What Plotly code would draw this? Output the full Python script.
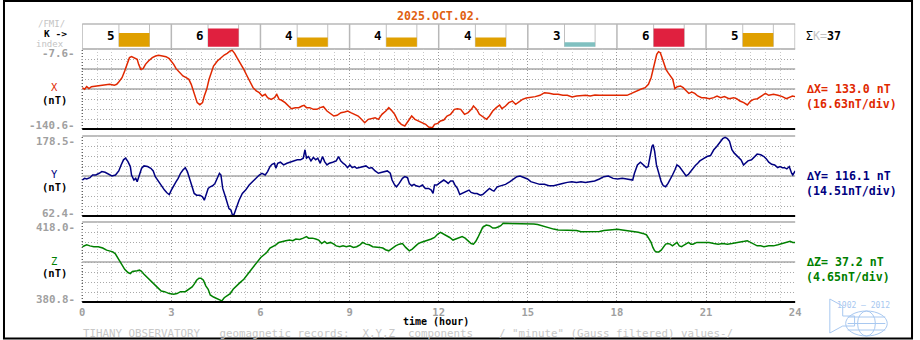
import plotly.graph_objects as go

# ---------------- data ----------------
TITLE = "2025.OCT.02."
K_INDEX = [5, 6, 4, 4, 4, 3, 6, 5]
HOUR_TICKS = [0, 3, 6, 9, 12, 15, 18, 21, 24]
HOUR_LABELS = ["0", "3", "6", "9", "12", "15", "18", "21", "24"]
X_RANGE = [-140.6, -7.6]
Y_RANGE = [62.4, 178.5]
Z_RANGE = [380.8, 418.0]
DIV_LABELS = ["(16.63nT/div)", "(14.51nT/div)", "(4.65nT/div)"]
FOOTER = 'TIHANY OBSERVATORY   geomagnetic records:  X,Y,Z  components    / "minute" (Gauss filtered) values-/'

X_HOURS = [0.00, 0.08, 0.15, 0.23, 0.31, 0.46, 0.62, 0.77, 0.92, 1.08,
           1.16, 1.23, 1.34, 1.43, 1.51, 1.59, 1.66, 1.77, 1.85, 1.90,
           1.97, 2.05, 2.13, 2.23, 2.36, 2.47, 2.57, 2.70, 2.82, 2.93,
           3.00, 3.08, 3.16, 3.28, 3.39, 3.50, 3.59, 3.67, 3.74, 3.81,
           3.87, 3.96, 4.05, 4.11, 4.19, 4.27, 4.35, 4.42, 4.55, 4.67,
           4.78, 4.88, 4.98, 5.05, 5.13, 5.21, 5.32, 5.44, 5.55, 5.65,
           5.75, 5.86, 5.96, 6.06, 6.16, 6.24, 6.36, 6.47, 6.55, 6.63,
           6.70, 6.83, 6.93, 7.04, 7.17, 7.29, 7.40, 7.47, 7.55, 7.66,
           7.78, 7.90, 8.01, 8.12, 8.24, 8.37, 8.47, 8.58, 8.71, 8.83,
           8.94, 9.04, 9.17, 9.29, 9.40, 9.51, 9.63, 9.75, 9.86, 9.97,
           10.09, 10.22, 10.32, 10.43, 10.52, 10.63, 10.74, 10.86, 10.99, 11.09,
           11.20, 11.33, 11.45, 11.56, 11.66, 11.79, 11.86, 11.97, 12.06, 12.17,
           12.28, 12.40, 12.53, 12.63, 12.74, 12.87, 12.99, 13.10, 13.17, 13.28,
           13.37, 13.48, 13.61, 13.71, 13.82, 13.94, 14.05, 14.13, 14.25, 14.36,
           14.48, 14.59, 14.71, 14.82, 14.95, 15.10, 15.25, 15.41, 15.56, 15.72,
           15.87, 16.02, 16.18, 16.33, 16.49, 16.64, 16.80, 16.95, 17.10, 17.26,
           17.41, 17.57, 17.72, 17.87, 18.03, 18.18, 18.34, 18.49, 18.64, 18.80,
           18.95, 19.06, 19.15, 19.21, 19.28, 19.34, 19.40, 19.46, 19.52, 19.58,
           19.65, 19.72, 19.80, 19.88, 19.95, 20.03, 20.14, 20.23, 20.34, 20.42,
           20.52, 20.62, 20.72, 20.85, 20.96, 21.11, 21.26, 21.37, 21.49, 21.62,
           21.77, 21.93, 22.03, 22.14, 22.27, 22.39, 22.50, 22.60, 22.73, 22.88,
           23.00, 23.11, 23.27, 23.42, 23.57, 23.70, 23.80, 23.91, 24.00]
X_NT = [-71.9, -74.6, -70.2, -73.5, -70.2, -69.1, -69.1, -68.0, -66.3, -68.0,
        -66.3, -62.5, -55.3, -44.2, -33.1, -22.0, -20.3, -23.7, -24.8, -33.1,
        -41.4, -40.3, -33.1, -27.5, -22.0, -19.2, -18.1, -19.2, -20.3, -23.7,
        -27.5, -33.1, -40.3, -46.9, -52.5, -55.3, -58.0, -66.3, -77.4, -91.3,
        -96.8, -100.2, -96.8, -85.7, -74.6, -58.0, -44.2, -35.9, -27.5, -22.0,
        -17.6, -14.8, -10.9, -9.8, -14.8, -22.0, -30.3, -41.4, -52.5, -63.6,
        -71.9, -77.4, -80.2, -85.7, -83.0, -88.5, -91.3, -88.5, -83.0, -91.3,
        -92.4, -96.8, -102.4, -106.8, -105.1, -105.1, -102.4, -101.3, -105.1, -105.1,
        -107.9, -107.9, -105.1, -103.5, -110.7, -116.2, -119.0, -117.9, -113.4, -112.3,
        -110.7, -113.4, -116.2, -119.0, -124.5, -130.1, -124.5, -123.4, -121.8, -124.5,
        -116.2, -110.7, -105.1, -110.7, -116.2, -127.3, -132.8, -135.6, -127.3, -119.0,
        -124.5, -127.3, -130.1, -132.8, -137.3, -138.4, -132.8, -131.2, -127.3, -125.6,
        -119.0, -116.2, -107.9, -106.8, -107.9, -116.2, -113.4, -107.9, -102.4, -107.9,
        -116.2, -120.1, -124.5, -119.0, -110.7, -105.1, -100.7, -106.8, -102.4, -96.8,
        -94.1, -99.6, -95.7, -91.3, -89.1, -88.5, -86.8, -84.6, -80.2, -81.3,
        -83.0, -83.0, -84.6, -84.6, -87.4, -85.7, -84.6, -84.6, -85.7, -84.1,
        -84.6, -84.6, -85.7, -84.6, -85.7, -84.6, -84.6, -81.3, -77.4, -74.6,
        -71.9, -66.3, -55.3, -41.4, -27.5, -16.5, -12.0, -13.7, -22.0, -33.1,
        -41.4, -46.9, -52.5, -58.0, -73.5, -70.2, -69.1, -71.9, -77.4, -81.3,
        -79.1, -81.3, -85.7, -88.5, -88.5, -90.2, -88.5, -85.7, -88.5, -86.8,
        -90.2, -88.5, -90.2, -94.1, -96.8, -100.7, -94.1, -91.3, -90.2, -84.6,
        -81.3, -84.6, -83.0, -84.6, -86.8, -90.2, -88.5, -85.7, -86.8]

Y_HOURS = [0.00, 0.08, 0.15, 0.26, 0.35, 0.46, 0.57, 0.66, 0.77, 0.88,
           1.00, 1.12, 1.23, 1.31, 1.39, 1.46, 1.54, 1.62, 1.66, 1.74,
           1.80, 1.85, 1.93, 2.00, 2.08, 2.20, 2.31, 2.39, 2.46, 2.57,
           2.66, 2.77, 2.85, 2.93, 3.00, 3.08, 3.16, 3.23, 3.31, 3.39,
           3.47, 3.54, 3.62, 3.70, 3.77, 3.85, 3.96, 4.05, 4.11, 4.16,
           4.24, 4.31, 4.39, 4.47, 4.54, 4.62, 4.67, 4.73, 4.82, 4.88,
           4.94, 5.01, 5.05, 5.11, 5.19, 5.28, 5.39, 5.50, 5.62, 5.75,
           5.85, 5.96, 6.05, 6.16, 6.24, 6.32, 6.39, 6.47, 6.52, 6.58,
           6.67, 6.78, 6.89, 7.01, 7.13, 7.24, 7.35, 7.44, 7.50, 7.55,
           7.62, 7.70, 7.78, 7.86, 7.93, 8.01, 8.09, 8.16, 8.24, 8.32,
           8.43, 8.55, 8.63, 8.70, 8.78, 8.86, 8.93, 9.01, 9.09, 9.17,
           9.24, 9.35, 9.44, 9.55, 9.66, 9.75, 9.86, 9.97, 10.09, 10.17,
           10.27, 10.37, 10.43, 10.52, 10.58, 10.67, 10.78, 10.86, 10.95, 11.01,
           11.09, 11.17, 11.24, 11.35, 11.45, 11.55, 11.66, 11.75, 11.81, 11.86,
           11.94, 12.01, 12.09, 12.17, 12.25, 12.32, 12.40, 12.48, 12.55, 12.63,
           12.71, 12.79, 12.86, 12.94, 13.02, 13.09, 13.20, 13.29, 13.40, 13.48,
           13.55, 13.63, 13.71, 13.79, 13.86, 13.97, 14.09, 14.25, 14.40, 14.53,
           14.63, 14.74, 14.86, 14.99, 15.10, 15.25, 15.40, 15.56, 15.71, 15.87,
           16.02, 16.17, 16.33, 16.48, 16.64, 16.79, 16.94, 17.10, 17.25, 17.41,
           17.56, 17.71, 17.87, 18.02, 18.18, 18.33, 18.53, 18.59, 18.69, 18.79,
           18.90, 18.99, 19.05, 19.10, 19.18, 19.22, 19.27, 19.33, 19.41, 19.49,
           19.56, 19.64, 19.72, 19.79, 19.87, 19.95, 20.02, 20.10, 20.18, 20.26,
           20.33, 20.41, 20.49, 20.56, 20.64, 20.72, 20.79, 20.90, 21.03, 21.15,
           21.26, 21.36, 21.46, 21.56, 21.64, 21.72, 21.79, 21.87, 21.95, 22.03,
           22.10, 22.18, 22.26, 22.33, 22.41, 22.53, 22.64, 22.72, 22.84, 22.95,
           23.03, 23.11, 23.21, 23.31, 23.41, 23.49, 23.57, 23.64, 23.72, 23.80,
           23.88, 23.92, 24.00]
Y_NT = [114.6, 117.0, 116.1, 118.0, 121.9, 121.9, 124.4, 126.8, 125.8, 122.9,
        120.5, 121.9, 127.8, 136.5, 143.9, 146.3, 141.4, 134.1, 121.9, 114.6,
        117.0, 112.2, 124.4, 131.7, 135.1, 134.1, 131.7, 127.8, 119.5, 112.2,
        107.3, 100.0, 96.1, 93.6, 100.0, 107.3, 112.2, 117.0, 124.4, 129.2,
        132.6, 126.8, 117.0, 104.8, 95.1, 92.6, 92.6, 90.2, 85.3, 92.6,
        102.4, 104.8, 106.3, 109.7, 117.0, 124.4, 121.9, 102.4, 90.2, 80.5,
        73.1, 70.7, 64.4, 64.4, 75.6, 85.3, 95.1, 100.0, 107.3, 113.1,
        117.0, 121.9, 124.4, 121.9, 126.8, 134.1, 137.5, 139.0, 131.7, 139.0,
        140.5, 136.5, 139.0, 140.5, 142.4, 143.9, 143.9, 146.3, 158.5, 146.3,
        148.7, 142.4, 147.3, 143.9, 146.3, 139.0, 148.7, 141.4, 136.5, 139.0,
        140.5, 142.4, 148.7, 142.4, 139.0, 136.5, 132.6, 136.5, 132.6, 134.1,
        131.7, 132.6, 134.1, 135.1, 131.7, 132.6, 127.8, 124.4, 125.8, 126.8,
        127.8, 124.4, 114.6, 107.3, 104.8, 109.7, 117.0, 119.5, 118.0, 109.7,
        106.3, 108.3, 106.3, 104.8, 107.3, 102.4, 102.4, 100.0, 95.1, 107.3,
        107.3, 109.7, 112.2, 114.6, 112.2, 109.7, 113.1, 113.1, 107.3, 102.4,
        93.6, 95.1, 96.6, 98.5, 100.0, 96.6, 95.1, 95.1, 92.6, 93.6,
        96.6, 100.0, 102.4, 100.0, 98.5, 104.8, 106.3, 108.3, 112.2, 117.0,
        119.5, 120.5, 118.0, 116.1, 112.2, 109.7, 108.3, 108.3, 106.3, 106.3,
        108.3, 109.7, 111.2, 112.2, 111.2, 112.2, 111.2, 112.2, 113.1, 116.1,
        119.5, 120.5, 117.0, 116.1, 117.0, 116.1, 114.6, 124.4, 136.5, 140.5,
        136.5, 132.6, 134.1, 146.3, 163.4, 165.8, 156.1, 136.5, 124.4, 112.2,
        106.3, 104.8, 109.7, 114.6, 121.9, 129.2, 136.5, 134.1, 129.2, 122.9,
        120.5, 122.9, 127.8, 131.7, 135.6, 139.0, 142.4, 145.3, 148.7, 150.2,
        158.5, 163.4, 168.3, 174.6, 176.5, 174.6, 170.7, 158.5, 153.6, 150.2,
        147.3, 143.9, 136.5, 139.0, 142.4, 143.9, 148.7, 152.2, 151.2, 148.7,
        145.3, 140.5, 137.5, 136.5, 132.6, 134.1, 132.6, 132.6, 130.7, 134.1,
        124.4, 121.9, 127.8]

Z_HOURS = [0.00, 0.08, 0.15, 0.26, 0.39, 0.54, 0.69, 0.82, 0.92, 1.03,
           1.12, 1.23, 1.34, 1.43, 1.54, 1.62, 1.69, 1.77, 1.85, 1.93,
           2.00, 2.08, 2.20, 2.31, 2.42, 2.54, 2.66, 2.77, 2.93, 3.08,
           3.19, 3.31, 3.47, 3.59, 3.70, 3.77, 3.85, 3.93, 4.00, 4.08,
           4.16, 4.24, 4.31, 4.42, 4.51, 4.62, 4.70, 4.78, 4.85, 4.98,
           5.08, 5.19, 5.31, 5.44, 5.55, 5.65, 5.78, 5.90, 6.01, 6.08,
           6.21, 6.32, 6.42, 6.52, 6.62, 6.73, 6.85, 6.98, 7.09, 7.19,
           7.32, 7.44, 7.55, 7.62, 7.75, 7.86, 7.96, 8.06, 8.16, 8.24,
           8.36, 8.47, 8.55, 8.67, 8.78, 8.89, 9.01, 9.13, 9.24, 9.35,
           9.44, 9.55, 9.66, 9.78, 9.90, 10.01, 10.12, 10.21, 10.32, 10.43,
           10.55, 10.67, 10.78, 10.89, 11.01, 11.11, 11.20, 11.29, 11.40, 11.51,
           11.63, 11.75, 11.86, 11.97, 12.06, 12.17, 12.25, 12.37, 12.48, 12.58,
           12.68, 12.79, 12.89, 12.99, 13.09, 13.17, 13.25, 13.32, 13.40, 13.48,
           13.60, 13.71, 13.82, 13.91, 14.02, 14.09, 14.17, 14.28, 14.40, 14.53,
           14.63, 14.74, 14.86, 14.99, 15.10, 15.20, 15.33, 15.45, 15.56, 15.71,
           15.87, 16.02, 16.17, 16.33, 16.48, 16.64, 16.79, 16.94, 17.10, 17.25,
           17.41, 17.56, 17.71, 17.87, 18.02, 18.18, 18.33, 18.48, 18.59, 18.72,
           18.87, 18.99, 19.05, 19.15, 19.21, 19.27, 19.33, 19.41, 19.49, 19.56,
           19.64, 19.72, 19.79, 19.87, 19.95, 20.02, 20.10, 20.18, 20.26, 20.33,
           20.41, 20.49, 20.56, 20.69, 20.79, 20.95, 21.10, 21.26, 21.41, 21.56,
           21.72, 21.87, 22.03, 22.18, 22.29, 22.39, 22.49, 22.60, 22.72, 22.84,
           22.95, 23.11, 23.27, 23.42, 23.57, 23.72, 23.83, 23.92, 24.00]
Z_NT = [406.5, 406.9, 407.4, 406.9, 406.5, 406.5, 405.9, 404.9, 404.6, 404.1,
        403.1, 400.7, 398.4, 396.0, 394.5, 394.0, 395.0, 395.0, 395.3, 395.6,
        395.0, 393.7, 392.2, 390.6, 389.1, 387.5, 385.9, 385.6, 384.7, 384.4,
        384.7, 385.6, 385.6, 386.7, 387.8, 389.1, 390.9, 391.9, 391.9, 390.9,
        388.3, 386.7, 384.1, 383.1, 382.5, 381.6, 381.3, 382.8, 383.6, 384.7,
        386.7, 388.3, 389.8, 391.4, 393.4, 395.3, 397.6, 399.9, 401.5, 402.3,
        403.8, 405.9, 406.5, 407.4, 408.5, 409.0, 409.3, 409.6, 409.3, 410.1,
        409.9, 410.5, 411.2, 410.5, 410.5, 410.1, 409.6, 408.0, 409.0, 408.0,
        408.5, 407.7, 406.9, 406.5, 406.9, 406.5, 406.9, 406.2, 406.5, 407.4,
        408.5, 407.7, 407.4, 406.5, 406.5, 406.2, 405.9, 405.1, 404.6, 405.9,
        406.9, 407.7, 408.0, 406.2, 404.6, 405.4, 406.5, 407.7, 408.5, 409.0,
        409.3, 410.1, 410.8, 412.4, 413.2, 412.4, 411.6, 410.8, 409.6, 410.1,
        410.8, 411.2, 410.5, 409.3, 408.0, 407.7, 409.0, 410.8, 413.2, 415.5,
        416.6, 416.3, 415.2, 415.2, 415.8, 416.3, 417.4, 417.4, 417.1, 417.4,
        417.4, 417.1, 417.1, 417.4, 417.4, 417.1, 416.8, 416.3, 415.8, 415.5,
        414.7, 414.3, 414.3, 414.3, 414.3, 414.0, 413.5, 413.5, 413.6, 413.6,
        413.6, 414.0, 414.3, 414.3, 414.6, 414.3, 414.0, 414.0, 413.6, 413.2,
        412.7, 412.1, 410.8, 408.5, 406.2, 404.6, 404.1, 404.1, 404.9, 406.5,
        407.7, 408.0, 407.7, 406.9, 408.0, 408.5, 406.9, 406.5, 407.3, 408.0,
        408.5, 407.7, 407.7, 408.5, 408.5, 408.5, 408.5, 408.0, 407.7, 408.0,
        407.7, 408.0, 408.5, 409.0, 409.0, 409.3, 408.5, 408.0, 406.9, 406.9,
        406.5, 406.9, 406.9, 407.4, 408.0, 408.5, 409.0, 408.5, 408.5]

# ---------------- styling / layout helpers ----------------
W, H = 920, 340
MONO = "DejaVu Sans Mono"
FS = 11.6
RED = "#e02800"
NAVY = "#000080"
GREEN = "#008000"
GREY = "#a0a0a0"
LIGHT = "#c4c4c4"
GRIDLINE = "#a8a8a8"
DOT = "1px,2px"


def fx(p):
    return p / W


def fy(p):
    return 1 - p / H


X_DOM = [fx(80), fx(800)]
panels = [
    # name, data, range, colour, top px, bottom px, axis suffix, extra solid fractions
    ("X", X_HOURS, X_NT, X_RANGE, RED, 49, 129, "", [0.5, 0.75]),
    ("Y", Y_HOURS, Y_NT, Y_RANGE, NAVY, 136, 216, "2", [0.5]),
    ("Z", Z_HOURS, Z_NT, Z_RANGE, GREEN, 222, 302, "3", [0.5]),
]

fig = go.Figure()
shapes = []
annotations = []
layout = dict(
    width=W, height=H, autosize=False,
    margin=dict(l=0, r=0, t=0, b=0),
    paper_bgcolor="white", plot_bgcolor="rgba(0,0,0,0)",
    showlegend=False,
    font=dict(family=MONO, size=FS, color="black"),
)


def txt(x, y, text, color="black", size=FS, xanchor="center", bold=False, **kw):
    t = f"<b>{text}</b>" if bold else text
    d = dict(x=x, y=y, text=t, showarrow=False, xanchor=xanchor, yanchor="middle",
             font=dict(family=MONO, size=size, color=color))
    d.setdefault("xref", "paper")
    d.setdefault("yref", "paper")
    d.update(kw)
    annotations.append(d)


for name, hrs, vals, rng, col, top, bot, sfx, solids in panels:
    xa, ya = "x" + sfx, "y" + sfx
    fig.add_trace(go.Scatter(x=hrs, y=vals, mode="lines", xaxis=xa, yaxis=ya,
                             line=dict(color=col, width=1.5), hoverinfo="skip"))
    lo, hi = rng
    step = (hi - lo) / 8
    layout["xaxis" + sfx] = dict(
        domain=X_DOM, range=[0, 24], anchor=ya, tickmode="array",
        tickvals=HOUR_TICKS, ticktext=HOUR_LABELS,
        showticklabels=(name == "Z"), ticks="",
        tickfont=dict(family=MONO, size=10.5, color=GREY, weight="bold"),
        showgrid=True, gridcolor="#999999", griddash=DOT, gridwidth=1,
        minor=dict(tick0=0, dtick=0.5, showgrid=True, gridcolor="#c8c8c8",
                   griddash=DOT, gridwidth=1),
        zeroline=False, showline=False, fixedrange=True,
    )
    layout["yaxis" + sfx] = dict(
        domain=[fy(bot), fy(top)], range=[lo, hi], anchor=xa,
        tickmode="array", tickvals=[lo + k * step for k in range(1, 8)],
        showticklabels=False, ticks="", showgrid=True, gridcolor=GRIDLINE,
        griddash=DOT, gridwidth=1, zeroline=False, showline=False,
    )
    # solid panel lines
    xdom = f"x{sfx} domain"
    ydom = f"y{sfx} domain"
    shapes.append(dict(type="line", xref=xdom, yref=ydom, x0=0, x1=1, y0=1, y1=1,
                       line=dict(color=GRIDLINE, width=1.5), layer="below"))
    for s in solids:
        shapes.append(dict(type="line", xref=xdom, yref=ydom, x0=0, x1=1, y0=s, y1=s,
                           line=dict(color=GRIDLINE, width=1.5), layer="below"))
    shapes.append(dict(type="line", xref=xdom, yref=ydom, x0=0, x1=1, y0=0, y1=0,
                       line=dict(color="black", width=2), layer="above"))
    shapes.append(dict(type="line", xref=xdom, yref=ydom, x0=0, x1=0, y0=0, y1=1,
                       line=dict(color="#222222", width=1, dash=DOT), layer="below"))
    # y end labels
    txt(fx(75), lo, f"{lo:.1f}-", color=GREY, xanchor="right", bold=True,
        yref=ya, yshift=3, size=10.8)
    txt(fx(75), hi, f"{hi:.1f}-", color=GREY, xanchor="right", bold=True,
        yref=ya, yshift=-5, size=10.8)
    # component name
    mid = (top + bot) / 2
    txt(fx(52), fy(mid - 1.5), name, color=col, size=10.5)
    txt(fx(52), fy(mid + 10.5), "(nT)", bold=True, size=10.5)
    # delta labels on the right
    txt(fx(809), fy(mid), f"\u2206{name}= {hi - lo:.1f} nT", color=col, xanchor="left", bold=True)
    txt(fx(809), fy(mid + 15), DIV_LABELS["XYZ".index(name)], color=col,
        xanchor="left", bold=True)

# ---------------- K index panel ----------------
BAR_W = 1.03


def k_color(k):
    if k >= 6:
        return "#e0203f"
    if k >= 4:
        return "#e0a000"
    return "#80c0c0"


k_centers = [3 * i + 1.75 for i in range(len(K_INDEX))]
fig.add_trace(go.Bar(x=k_centers, y=K_INDEX, width=BAR_W, xaxis="x4", yaxis="y4",
                     marker=dict(color=[k_color(k) for k in K_INDEX], line=dict(width=0)),
                     hoverinfo="skip"))
layout["xaxis4"] = dict(domain=X_DOM, range=[0, 24], anchor="y4", showgrid=False,
                        showticklabels=False, ticks="", zeroline=False, showline=False)
layout["yaxis4"] = dict(domain=[fy(46.7), fy(24)], range=[2.0, 6.97], anchor="x4",
                        showgrid=False, showticklabels=False, ticks="", zeroline=False,
                        showline=False)
shapes.append(dict(type="line", xref="paper", yref="paper", x0=fx(80), x1=fx(800),
                   y0=fy(24), y1=fy(24), line=dict(color="#b8b8b8", width=1.5)))
for h in HOUR_TICKS:
    shapes.append(dict(type="line", xref="x4", yref="paper", x0=h, x1=h,
                       y0=fy(49), y1=fy(24), line=dict(color="#b8b8b8", width=1.5)))
for c in k_centers:
    for e in (c - BAR_W / 2, c + BAR_W / 2):
        shapes.append(dict(type="line", xref="x4", yref="paper", x0=e, x1=e,
                           y0=fy(46.7), y1=fy(24), line=dict(color="#c0c0c0", width=1),
                           layer="below"))
for i, k in enumerate(K_INDEX):
    txt(3 * i + 0.97, fy(36), str(k), bold=True, xref="x4", size=12.5)

txt(fx(49), fy(24.3), "/FMI/", color=LIGHT, size=9)
txt(fx(53), fy(33.8), "K ->", bold=True, size=9.5)
txt(fx(47), fy(43.6), "index", color=LIGHT, size=9)
txt(fx(809), fy(36),
    f"\u03a3<span style='color:{LIGHT}'>K=</span><b>{sum(K_INDEX)}</b>",
    xanchor="left")

# ---------------- titles / footer ----------------
txt(fx(440), fy(16), TITLE, color="#e0600f", bold=True)
txt(fx(437), fy(321.8), "time (hour)", bold=True, size=10)
txt(fx(79), fy(333.3), FOOTER.replace(" ", "&nbsp;"), color="#c8c8c8", xanchor="left",
    size=10.8)

# logo (decorative)
LOGO = "#a8c8f0"
txt(fx(869), fy(305.5), "1902 \u2014 2012", color=LOGO, size=8)
shapes.append(dict(type="circle", xref="paper", yref="paper", x0=fx(851), x1=fx(893),
                   y0=fy(336), y1=fy(311), line=dict(color=LOGO, width=1)))
shapes.append(dict(type="circle", xref="paper", yref="paper", x0=fx(863), x1=fx(881),
                   y0=fy(336), y1=fy(311), line=dict(color=LOGO, width=1)))
for yy in (317, 323.5, 330):
    shapes.append(dict(type="line", xref="paper", yref="paper", x0=fx(853), x1=fx(891),
                       y0=fy(yy), y1=fy(yy), line=dict(color=LOGO, width=1)))
logo_path = (f"M {fx(835)} {fy(299)} L {fx(835)} {fy(333)} L {fx(848)} {fy(326)} "
             f"L {fx(860)} {fy(326)} L {fx(860)} {fy(316)} L {fx(848)} {fy(316)} "
             f"L {fx(848)} {fy(306)} Z")
shapes.append(dict(type="path", xref="paper", yref="paper", path=logo_path,
                   line=dict(color=LOGO, width=1)))

# outer frame
shapes.append(dict(type="rect", xref="paper", yref="paper", x0=fx(1), x1=fx(918),
                   y0=fy(338.5), y1=fy(1), line=dict(color="black", width=2)))

layout["shapes"] = shapes
layout["annotations"] = annotations
fig.update_layout(**layout)
fig.update_xaxes(ticklabelstandoff=2, selector=dict(anchor="y3"))
fig.write_html("out.html")
